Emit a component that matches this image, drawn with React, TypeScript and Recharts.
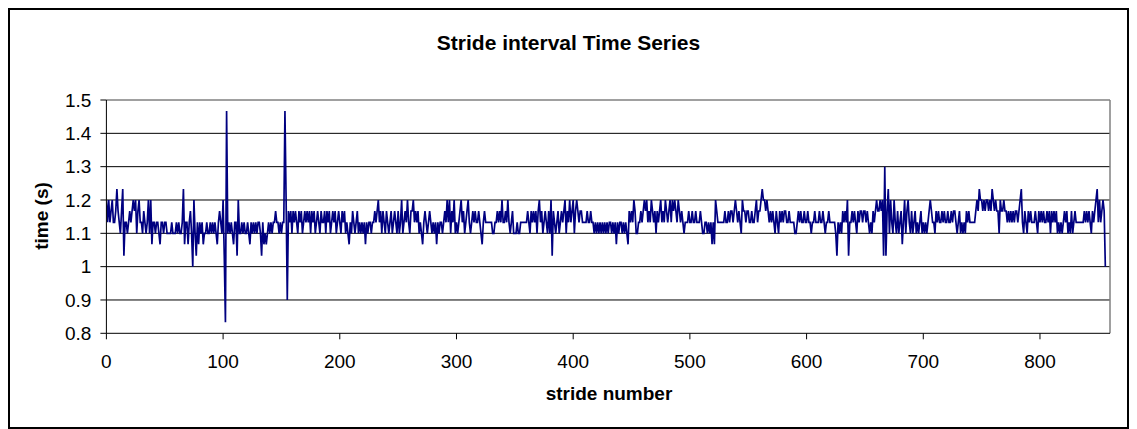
import React from 'react';
import { LineChart, Line, XAxis, YAxis, CartesianGrid, ReferenceLine } from 'recharts';

// stride intervals in seconds in blocks of 100 strides
const strides000 = [
  1.2, 1.133, 1.2, 1.133, 1.167, 1.2, 1.133, 1.133, 1.167, 1.233,
  1.167, 1.133, 1.1, 1.167, 1.233, 1.033, 1.133, 1.133, 1.1, 1.133,
  1.167, 1.133, 1.167, 1.2, 1.167, 1.2, 1.1, 1.167, 1.2, 1.133,
  1.133, 1.1, 1.167, 1.133, 1.1, 1.133, 1.2, 1.1, 1.2, 1.067,
  1.133, 1.133, 1.1, 1.133, 1.133, 1.1, 1.067, 1.133, 1.133, 1.1,
  1.133, 1.133, 1.1, 1.1, 1.1, 1.1, 1.133, 1.1, 1.1, 1.1,
  1.133, 1.1, 1.133, 1.1, 1.1, 1.133, 1.233, 1.067, 1.133, 1.133,
  1.067, 1.133, 1.167, 1.1, 1.0, 1.2, 1.1, 1.033, 1.133, 1.067,
  1.133, 1.1, 1.133, 1.067, 1.1, 1.1, 1.133, 1.1, 1.1, 1.133,
  1.1, 1.133, 1.1, 1.133, 1.1, 1.067, 1.133, 1.167, 1.133, 1.1,
];
const strides100 = [
  1.2, 1.033, 0.833, 1.467, 1.1, 1.133, 1.1, 1.133, 1.1, 1.067,
  1.133, 1.133, 1.033, 1.2, 1.1, 1.1, 1.133, 1.1, 1.133, 1.1,
  1.1, 1.133, 1.1, 1.067, 1.133, 1.1, 1.133, 1.1, 1.133, 1.1,
  1.133, 1.133, 1.1, 1.033, 1.133, 1.067, 1.1, 1.067, 1.1, 1.133,
  1.1, 1.133, 1.1, 1.133, 1.133, 1.167, 1.133, 1.133, 1.1, 1.133,
  1.1, 1.133, 1.133, 1.467, 1.2, 0.9, 1.167, 1.133, 1.167, 1.1,
  1.167, 1.133, 1.167, 1.133, 1.1, 1.167, 1.133, 1.167, 1.1, 1.133,
  1.167, 1.133, 1.167, 1.133, 1.167, 1.1, 1.167, 1.133, 1.167, 1.1,
  1.133, 1.167, 1.133, 1.1, 1.167, 1.133, 1.133, 1.167, 1.1, 1.167,
  1.133, 1.167, 1.1, 1.133, 1.167, 1.133, 1.167, 1.1, 1.133, 1.167,
];
const strides200 = [
  1.133, 1.1, 1.167, 1.133, 1.167, 1.1, 1.133, 1.1, 1.067, 1.133,
  1.1, 1.167, 1.133, 1.1, 1.133, 1.167, 1.1, 1.133, 1.1, 1.133,
  1.1, 1.133, 1.067, 1.133, 1.1, 1.133, 1.133, 1.1, 1.133, 1.133,
  1.167, 1.133, 1.167, 1.2, 1.133, 1.167, 1.1, 1.167, 1.133, 1.1,
  1.167, 1.133, 1.1, 1.133, 1.167, 1.1, 1.133, 1.167, 1.133, 1.1,
  1.167, 1.1, 1.133, 1.2, 1.1, 1.133, 1.167, 1.133, 1.2, 1.133,
  1.1, 1.167, 1.167, 1.2, 1.133, 1.167, 1.133, 1.167, 1.1, 1.133,
  1.1, 1.067, 1.133, 1.167, 1.133, 1.1, 1.133, 1.167, 1.133, 1.1,
  1.133, 1.1, 1.133, 1.067, 1.133, 1.1, 1.133, 1.133, 1.1, 1.133,
  1.167, 1.133, 1.2, 1.133, 1.2, 1.1, 1.167, 1.133, 1.2, 1.1,
];
const strides300 = [
  1.133, 1.1, 1.133, 1.167, 1.2, 1.133, 1.167, 1.1, 1.133, 1.167,
  1.2, 1.133, 1.1, 1.133, 1.167, 1.133, 1.167, 1.133, 1.133, 1.167,
  1.133, 1.1, 1.067, 1.133, 1.167, 1.133, 1.133, 1.133, 1.133, 1.133,
  1.133, 1.1, 1.1, 1.133, 1.133, 1.167, 1.133, 1.167, 1.133, 1.2,
  1.133, 1.133, 1.167, 1.133, 1.2, 1.133, 1.1, 1.133, 1.167, 1.1,
  1.1, 1.1, 1.133, 1.1, 1.1, 1.133, 1.133, 1.133, 1.133, 1.133,
  1.133, 1.167, 1.133, 1.1, 1.167, 1.133, 1.167, 1.133, 1.167, 1.1,
  1.167, 1.2, 1.133, 1.167, 1.1, 1.133, 1.167, 1.133, 1.1, 1.167,
  1.1, 1.2, 1.033, 1.167, 1.133, 1.1, 1.133, 1.167, 1.1, 1.133,
  1.167, 1.133, 1.167, 1.2, 1.1, 1.167, 1.133, 1.2, 1.133, 1.167,
];
const strides400 = [
  1.2, 1.1, 1.167, 1.2, 1.167, 1.133, 1.167, 1.167, 1.133, 1.133,
  1.133, 1.133, 1.167, 1.133, 1.133, 1.167, 1.133, 1.133, 1.1, 1.133,
  1.1, 1.133, 1.1, 1.133, 1.1, 1.133, 1.1, 1.133, 1.1, 1.133,
  1.1, 1.133, 1.133, 1.1, 1.133, 1.1, 1.133, 1.067, 1.133, 1.1,
  1.133, 1.133, 1.1, 1.133, 1.1, 1.133, 1.1, 1.067, 1.167, 1.133,
  1.167, 1.133, 1.2, 1.167, 1.1, 1.1, 1.133, 1.133, 1.167, 1.133,
  1.167, 1.2, 1.167, 1.2, 1.133, 1.167, 1.133, 1.2, 1.167, 1.133,
  1.167, 1.1, 1.167, 1.133, 1.167, 1.2, 1.133, 1.167, 1.133, 1.2,
  1.167, 1.133, 1.167, 1.2, 1.133, 1.2, 1.167, 1.2, 1.167, 1.133,
  1.2, 1.167, 1.133, 1.167, 1.133, 1.1, 1.133, 1.133, 1.133, 1.167,
];
const strides500 = [
  1.133, 1.133, 1.167, 1.133, 1.133, 1.167, 1.133, 1.133, 1.133, 1.167,
  1.133, 1.1, 1.1, 1.133, 1.133, 1.1, 1.133, 1.1, 1.133, 1.067,
  1.133, 1.067, 1.2, 1.167, 1.133, 1.133, 1.133, 1.133, 1.133, 1.133,
  1.167, 1.133, 1.133, 1.167, 1.133, 1.167, 1.167, 1.133, 1.167, 1.2,
  1.167, 1.133, 1.167, 1.133, 1.1, 1.2, 1.167, 1.167, 1.133, 1.167,
  1.167, 1.133, 1.133, 1.167, 1.133, 1.133, 1.167, 1.2, 1.133, 1.167,
  1.167, 1.2, 1.233, 1.2, 1.2, 1.167, 1.2, 1.167, 1.133, 1.167,
  1.133, 1.167, 1.133, 1.1, 1.167, 1.133, 1.1, 1.167, 1.133, 1.167,
  1.133, 1.167, 1.167, 1.133, 1.133, 1.167, 1.133, 1.133, 1.133, 1.133,
  1.1, 1.1, 1.133, 1.167, 1.133, 1.167, 1.133, 1.133, 1.167, 1.133,
];
const strides600 = [
  1.133, 1.167, 1.133, 1.133, 1.1, 1.133, 1.133, 1.167, 1.133, 1.133,
  1.133, 1.167, 1.133, 1.133, 1.167, 1.133, 1.1, 1.133, 1.133, 1.167,
  1.133, 1.133, 1.133, 1.133, 1.133, 1.1, 1.033, 1.133, 1.1, 1.133,
  1.1, 1.167, 1.133, 1.167, 1.133, 1.2, 1.033, 1.133, 1.133, 1.167,
  1.133, 1.167, 1.133, 1.1, 1.167, 1.133, 1.167, 1.167, 1.133, 1.167,
  1.167, 1.133, 1.167, 1.133, 1.1, 1.133, 1.1, 1.167, 1.133, 1.167,
  1.2, 1.167, 1.167, 1.2, 1.167, 1.2, 1.033, 1.3, 1.033, 1.167,
  1.233, 1.1, 1.2, 1.133, 1.1, 1.2, 1.133, 1.1, 1.167, 1.1,
  1.133, 1.167, 1.067, 1.133, 1.2, 1.1, 1.167, 1.2, 1.133, 1.1,
  1.167, 1.1, 1.133, 1.167, 1.1, 1.133, 1.1, 1.133, 1.167, 1.1,
];
const strides700 = [
  1.133, 1.1, 1.133, 1.1, 1.133, 1.167, 1.2, 1.167, 1.133, 1.133,
  1.1, 1.167, 1.133, 1.167, 1.133, 1.133, 1.167, 1.133, 1.167, 1.133,
  1.133, 1.167, 1.133, 1.133, 1.167, 1.133, 1.167, 1.167, 1.133, 1.1,
  1.133, 1.167, 1.1, 1.133, 1.1, 1.133, 1.1, 1.167, 1.133, 1.167,
  1.133, 1.133, 1.133, 1.133, 1.133, 1.167, 1.2, 1.167, 1.233, 1.2,
  1.2, 1.167, 1.2, 1.167, 1.2, 1.2, 1.167, 1.2, 1.167, 1.233,
  1.2, 1.167, 1.2, 1.167, 1.167, 1.1, 1.2, 1.167, 1.167, 1.2,
  1.167, 1.167, 1.133, 1.167, 1.133, 1.167, 1.133, 1.167, 1.133, 1.167,
  1.167, 1.133, 1.167, 1.2, 1.233, 1.133, 1.1, 1.167, 1.133, 1.1,
  1.167, 1.133, 1.167, 1.133, 1.133, 1.133, 1.167, 1.133, 1.1, 1.167,
];
const strides800 = [
  1.133, 1.167, 1.133, 1.167, 1.133, 1.133, 1.167, 1.133, 1.167, 1.1,
  1.167, 1.133, 1.167, 1.133, 1.167, 1.1, 1.133, 1.1, 1.133, 1.1,
  1.133, 1.167, 1.133, 1.167, 1.1, 1.133, 1.1, 1.167, 1.1, 1.133,
  1.167, 1.133, 1.133, 1.133, 1.133, 1.133, 1.133, 1.133, 1.167, 1.133,
  1.167, 1.133, 1.167, 1.133, 1.1, 1.167, 1.133, 1.167, 1.2, 1.233,
  1.133, 1.2, 1.133, 1.167, 1.2, 1.167, 1.0,
];

const xTicks = [0, 100, 200, 300, 400, 500, 600, 700, 800];
const yTicks = [0.8, 0.9, 1.0, 1.1, 1.2, 1.3, 1.4, 1.5];
const gridValues = [0.9, 1.0, 1.1, 1.2, 1.3, 1.4];

const intervals = [
  ...strides000, ...strides100, ...strides200, ...strides300, ...strides400,
  ...strides500, ...strides600, ...strides700, ...strides800,
];
const data = intervals.map((t, i) => ({ stride: i, time: t }));

const FONT = '"Liberation Sans", Arial, sans-serif';

export default function App() {
  return (
    <div
      style={{
        position: 'relative',
        width: 1121,
        height: 421,
        border: '2px solid #000',
        boxSizing: 'border-box',
        fontFamily: FONT,
        background: '#fff',
      }}
    >
      <div
        style={{
          position: 'absolute', left: 0, right: 0, top: 21, textAlign: 'center',
          fontSize: 21, fontWeight: 'bold', color: '#000',
        }}
      >
        Stride interval Time Series
      </div>
      <div
        style={{
          position: 'absolute', left: 98, right: 17, top: 373, textAlign: 'center',
          fontSize: 19, fontWeight: 'bold', color: '#000',
        }}
      >
        stride number
      </div>
      <div
        style={{
          position: 'absolute', left: 32, top: 206, transform: 'translate(-50%, -50%) rotate(-90deg)',
          fontSize: 19, fontWeight: 'bold', color: '#000', whiteSpace: 'nowrap',
        }}
      >
        time (s)
      </div>
      <LineChart
        width={1117}
        height={417}
        data={data}
        margin={{ top: 90, right: 17, bottom: 53.7, left: 20 }}
        style={{ position: 'absolute', left: 0, top: 0 }}
      >
        <CartesianGrid vertical={false} horizontalValues={gridValues} stroke="#000" strokeWidth={1} />
        <ReferenceLine y={1.5} stroke="#808080" strokeWidth={1.5} />
        <ReferenceLine x={860} stroke="#808080" strokeWidth={1.5} />
        <XAxis
          dataKey="stride"
          type="number"
          domain={[0, 860]}
          ticks={xTicks}
          allowDataOverflow
          height={40}
          tickSize={6}
          tickMargin={15}
          stroke="#000"
          tick={{ fill: '#000', fontSize: 19, fontFamily: FONT }}
        />
        <YAxis
          type="number"
          domain={[0.8, 1.5]}
          ticks={yTicks}
          allowDataOverflow
          width={76.4}
          tickSize={6}
          tickMargin={9}
          stroke="#000"
          tickFormatter={(v: number) => String(Number(v.toFixed(1)))}
          tick={{ fill: '#000', fontSize: 19, fontFamily: FONT }}
        />
        <Line
          dataKey="time"
          type="linear"
          stroke="#000080"
          strokeWidth={1.7}
          dot={false}
          isAnimationActive={false}
        />
      </LineChart>
    </div>
  );
}
